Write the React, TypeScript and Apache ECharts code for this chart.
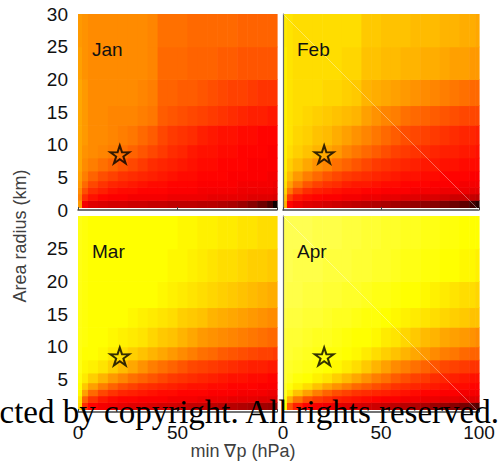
import React, { useEffect, useRef } from 'react';
import * as echarts from 'echarts';

// cell edges: min ∇p (hPa) and area radius (km)
const X_EDGES = [0, 2, 5, 10, 15, 20, 25, 30, 35, 40, 45, 50, 55, 60, 65, 70, 75, 80, 85, 90, 95, 98, 100];
const Y_EDGES = [0.4, 1.5, 2.5, 3.5, 4.5, 6, 8, 10, 13, 16, 20, 25, 30];

const JAN = [
  [60, 36, 33, 32, 31, 31, 30, 30, 29, 29, 28, 28, 28, 27, 27, 26, 25, 23, 20, 16, 11, 2],
  [56, 44, 40, 38, 37, 37, 36, 36, 36, 36, 35, 35, 35, 35, 34, 34, 34, 34, 33, 33, 33, 32],
  [58, 49, 44, 42, 40, 39, 39, 38, 38, 38, 37, 37, 37, 36, 36, 36, 36, 35, 35, 35, 35, 34],
  [60, 53, 48, 45, 43, 42, 41, 40, 39, 39, 38, 38, 38, 37, 37, 37, 37, 36, 36, 36, 36, 35],
  [61, 56, 52, 49, 47, 45, 44, 43, 42, 41, 40, 39, 39, 38, 38, 38, 37, 37, 37, 37, 36, 36],
  [62, 58, 56, 54, 52, 50, 48, 46, 44, 43, 42, 41, 40, 39, 39, 38, 38, 38, 37, 37, 37, 37],
  [62, 59, 58, 57, 56, 54, 52, 50, 48, 46, 44, 43, 41, 40, 40, 39, 39, 38, 38, 38, 37, 37],
  [62, 60, 58, 58, 57, 56, 55, 53, 51, 48, 46, 45, 44, 42, 41, 40, 40, 39, 39, 38, 38, 38],
  [62, 60, 58, 58, 57, 57, 57, 56, 55, 51, 50, 49, 48, 47, 46, 45, 44, 43, 42, 42, 41, 41],
  [62, 60, 58, 58, 58, 58, 58, 57, 56, 52, 52, 51, 51, 50, 49, 48, 47, 47, 46, 45, 45, 45],
  [61, 59, 58, 58, 58, 58, 58, 58, 57, 53, 53, 53, 52, 52, 52, 51, 51, 50, 50, 50, 50, 50],
  [60, 59, 58, 58, 58, 58, 58, 58, 57, 54, 54, 54, 53, 53, 53, 53, 53, 52, 52, 52, 52, 52],
];
const FEB = [
  [64, 38, 35, 33, 32, 31, 30, 29, 28, 27, 26, 25, 24, 23, 22, 21, 20, 18, 16, 14, 10, 6],
  [66, 46, 41, 39, 38, 37, 37, 36, 36, 35, 35, 34, 34, 33, 33, 32, 32, 31, 30, 30, 29, 28],
  [69, 55, 48, 44, 42, 41, 40, 39, 39, 38, 38, 37, 37, 37, 36, 36, 36, 35, 35, 35, 34, 34],
  [71, 61, 55, 50, 47, 45, 44, 42, 41, 41, 40, 39, 39, 38, 38, 38, 37, 37, 37, 36, 36, 36],
  [72, 65, 60, 56, 53, 50, 48, 46, 45, 44, 43, 42, 41, 40, 40, 39, 39, 38, 38, 38, 37, 37],
  [73, 68, 65, 62, 59, 57, 54, 52, 50, 48, 46, 45, 44, 43, 42, 41, 41, 40, 40, 39, 39, 39],
  [73, 70, 68, 66, 64, 62, 60, 57, 55, 53, 51, 49, 47, 46, 45, 44, 43, 42, 42, 41, 41, 40],
  [73, 71, 69, 68, 66, 65, 63, 61, 59, 57, 55, 53, 51, 49, 48, 47, 46, 45, 44, 43, 43, 42],
  [73, 71, 70, 69, 68, 67, 66, 65, 64, 61, 59, 57, 56, 54, 53, 52, 51, 50, 49, 48, 48, 48],
  [73, 71, 70, 70, 70, 69, 69, 68, 67, 64, 63, 62, 61, 60, 59, 58, 57, 56, 55, 54, 53, 53],
  [73, 71, 70, 70, 70, 70, 70, 69, 69, 66, 66, 65, 65, 64, 64, 63, 63, 62, 61, 61, 60, 60],
  [72, 71, 70, 70, 70, 70, 70, 70, 70, 67, 67, 66, 66, 66, 65, 65, 65, 64, 64, 63, 63, 62],
];
const MAR = [
  [70, 44, 38, 36, 35, 34, 33, 33, 32, 31, 31, 30, 29, 29, 28, 27, 27, 26, 25, 24, 23, 22],
  [71, 52, 45, 41, 39, 38, 38, 37, 37, 37, 36, 36, 36, 35, 35, 35, 34, 34, 34, 33, 33, 33],
  [74, 61, 53, 48, 45, 43, 42, 41, 40, 39, 39, 38, 38, 38, 37, 37, 37, 36, 36, 36, 35, 35],
  [75, 67, 61, 56, 52, 49, 47, 45, 44, 43, 42, 41, 40, 40, 39, 39, 38, 38, 38, 37, 37, 37],
  [76, 72, 68, 64, 60, 57, 54, 52, 50, 48, 46, 45, 44, 43, 42, 41, 40, 40, 39, 39, 38, 38],
  [77, 74, 73, 71, 68, 65, 62, 59, 56, 54, 52, 50, 48, 47, 46, 45, 44, 43, 42, 42, 41, 41],
  [77, 75, 75, 74, 72, 70, 68, 66, 64, 62, 60, 58, 56, 54, 53, 51, 50, 49, 48, 47, 47, 46],
  [77, 76, 75, 75, 74, 73, 72, 71, 69, 67, 66, 64, 62, 60, 59, 58, 57, 56, 55, 54, 53, 53],
  [77, 76, 75, 75, 75, 75, 74, 73, 72, 71, 70, 68, 67, 66, 64, 63, 62, 61, 60, 59, 58, 58],
  [77, 76, 75, 75, 75, 75, 75, 75, 75, 74, 73, 72, 71, 70, 69, 68, 67, 66, 65, 64, 63, 63],
  [77, 76, 75, 75, 75, 75, 75, 75, 75, 75, 74, 74, 73, 72, 71, 70, 70, 69, 68, 68, 67, 67],
  [77, 76, 75, 75, 75, 75, 75, 75, 75, 75, 75, 74, 74, 73, 73, 72, 72, 71, 71, 70, 70, 70],
];
const APR = [
  [75, 50, 42, 38, 36, 35, 34, 33, 32, 31, 30, 29, 28, 27, 26, 25, 23, 22, 20, 18, 15, 12],
  [76, 63, 55, 49, 46, 44, 42, 41, 40, 39, 38, 37, 37, 36, 36, 35, 35, 34, 34, 33, 33, 33],
  [78, 72, 66, 61, 56, 52, 49, 47, 45, 44, 43, 42, 41, 40, 39, 38, 38, 37, 37, 36, 36, 36],
  [79, 76, 73, 70, 66, 62, 59, 56, 53, 51, 49, 47, 45, 44, 43, 42, 41, 40, 39, 39, 38, 38],
  [80, 78, 76, 75, 73, 71, 68, 65, 62, 59, 56, 54, 51, 49, 47, 46, 44, 43, 42, 41, 40, 40],
  [80, 79, 78, 77, 76, 75, 74, 72, 70, 67, 64, 61, 58, 56, 54, 52, 50, 48, 47, 46, 45, 45],
  [81, 80, 79, 78, 77, 76, 76, 75, 74, 72, 70, 68, 66, 64, 62, 60, 58, 56, 55, 53, 52, 52],
  [81, 80, 80, 79, 78, 78, 77, 76, 75, 75, 74, 72, 71, 69, 67, 65, 64, 62, 61, 60, 59, 58],
  [82, 81, 81, 80, 80, 79, 78, 78, 77, 76, 76, 75, 74, 73, 72, 71, 70, 69, 68, 67, 66, 66],
  [83, 82, 82, 81, 81, 80, 80, 79, 79, 78, 77, 77, 76, 75, 75, 74, 73, 72, 71, 70, 70, 69],
  [83, 83, 82, 82, 82, 81, 81, 81, 80, 80, 79, 79, 78, 77, 77, 76, 76, 75, 75, 74, 74, 73],
  [83, 83, 83, 83, 82, 82, 82, 81, 81, 80, 80, 79, 79, 78, 78, 77, 77, 76, 76, 75, 75, 75],
];

const MONTHS = ['Jan', 'Feb', 'Mar', 'Apr'];
const MATRICES = [JAN, FEB, MAR, APR];
const STAR = [21, 8.5];
const X_MIN = 0;
const X_MAX = 100;
const X_STEP = 50;
const Y_MIN = 0;
const Y_MAX = 30;
const Y_STEP = 5;

const HOT = ['#000000', '#550000', '#aa0000', '#ff0000', '#ff5500', '#ffaa00', '#ffff00', '#ffff80', '#ffffff'];
const FONT = "'Liberation Sans', Arial, sans-serif";
const AXIS_COLOR = '#444444';
const STAR_PATH =
  'path://M50 0 L61.17 34.63 L97.55 34.55 L68.07 55.87 L79.39 90.45 L50 69 L20.61 90.45 L31.93 55.87 L2.45 34.55 L38.83 34.63 Z';

const GRIDS = [
  { left: 78, top: 14, width: 199, height: 196 },
  { left: 283, top: 14, width: 196, height: 196 },
  { left: 78, top: 216, width: 199, height: 196 },
  { left: 283, top: 216, width: 196, height: 196 },
];

function toCells(m: number[][]) {
  const out: number[][] = [];
  m.forEach((row, j) =>
    row.forEach((v, i) => out.push([X_EDGES[i], X_EDGES[i + 1], Y_EDGES[j], Y_EDGES[j + 1], v]))
  );
  return out;
}

export default function App() {
  const ref = useRef<HTMLDivElement>(null);
  useEffect(() => {
    if (!ref.current) return;
    const chart = echarts.init(ref.current, undefined, { renderer: 'svg' });

    const xAxis = GRIDS.map((_, i) => ({
      type: 'value',
      gridIndex: i,
      min: X_MIN,
      max: X_MAX,
      interval: X_STEP,
      z: 5,
      splitLine: { show: false },
      axisLine: { show: true, lineStyle: { color: AXIS_COLOR, width: 1.5 } },
      axisTick: { show: true, inside: true, length: 3, lineStyle: { color: AXIS_COLOR } },
      axisLabel: {
        show: i >= 2,
        margin: 11,
        color: '#111',
        fontSize: 19,
        fontFamily: FONT,
        showMinLabel: true,
        showMaxLabel: true,
        formatter: (v: number) => (i === 2 && v === X_MAX ? '' : String(v)),
      },
    }));

    const yAxis = GRIDS.map((_, i) => ({
      type: 'value',
      gridIndex: i,
      min: Y_MIN,
      max: Y_MAX,
      interval: Y_STEP,
      z: 5,
      splitLine: { show: false },
      axisLine: { show: i % 2 === 1, lineStyle: { color: '#666666', width: 1.2 } },
      axisTick: { show: false },
      axisLabel: {
        show: i % 2 === 0,
        margin: 10,
        color: '#111',
        fontSize: 19,
        fontFamily: FONT,
        formatter: (v: number) => (i === 2 && (v === Y_MIN || v === Y_MAX) ? '' : String(v)),
      },
    }));

    const heatSeries = MATRICES.map((m, i) => ({
      type: 'custom',
      xAxisIndex: i,
      yAxisIndex: i,
      z: 1,
      encode: { x: [0, 1], y: [2, 3] },
      data: toCells(m),
      renderItem: (params: any, api: any) => {
        const p0 = api.coord([api.value(0), api.value(3)]);
        const p1 = api.coord([api.value(1), api.value(2)]);
        return {
          type: 'rect',
          shape: { x: p0[0], y: p0[1], width: p1[0] - p0[0] + 0.6, height: p1[1] - p0[1] + 0.6 },
          style: { fill: api.visual('color') },
        };
      },
    }));

    const starSeries = MONTHS.map((_, i) => ({
      type: 'scatter',
      xAxisIndex: i,
      yAxisIndex: i,
      z: 10,
      symbol: STAR_PATH,
      symbolSize: [19, 18],
      data: [STAR],
      itemStyle: { color: 'rgba(0,0,0,0)', borderColor: '#000', borderWidth: 2 },
      silent: true,
    }));

    const monthText = MONTHS.map((name, i) => ({
      type: 'text',
      x: GRIDS[i].left + 14,
      y: GRIDS[i].top + 35,
      z: 20,
      style: { text: name, fill: '#111', font: `19px ${FONT}`, verticalAlign: 'middle', align: 'left' },
    }));

    chart.setOption({
      animation: false,
      grid: GRIDS.map((g) => ({ ...g, containLabel: false })),
      xAxis,
      yAxis,
      visualMap: {
        type: 'continuous',
        show: false,
        min: 0,
        max: 100,
        dimension: 4,
        seriesIndex: [0, 1, 2, 3],
        inRange: { color: HOT },
      },
      series: [...heatSeries, ...starSeries],
      graphic: [
        ...monthText,
        {
          type: 'line',
          z: 15,
          shape: { x1: 283, y1: 14, x2: 479, y2: 210 },
          style: { stroke: 'rgba(255,255,255,0.35)', lineWidth: 1 },
        },
        {
          type: 'line',
          z: 15,
          shape: { x1: 283, y1: 216, x2: 479, y2: 412 },
          style: { stroke: 'rgba(255,255,255,0.35)', lineWidth: 1 },
        },
        {
          type: 'text',
          x: 20,
          y: 236,
          rotation: Math.PI / 2,
          z: 20,
          style: {
            text: 'Area radius (km)',
            fill: '#404040',
            font: `18px ${FONT}`,
            align: 'center',
            verticalAlign: 'middle',
          },
        },
        {
          type: 'text',
          x: 243,
          y: 451,
          z: 20,
          style: {
            text: 'min \u2207p (hPa)',
            fill: '#404040',
            font: `18px ${FONT}`,
            align: 'center',
            verticalAlign: 'middle',
          },
        },
        {
          type: 'text',
          x: 499,
          y: 412,
          z: 30,
          style: {
            text: 'Protected by copyright. All rights reserved.',
            fill: '#000',
            font: "33px 'Liberation Serif', serif",
            align: 'right',
            verticalAlign: 'middle',
          },
        },
      ],
    });
    return () => chart.dispose();
  }, []);
  return <div ref={ref} style={{ position: 'absolute', left: 0, top: 0, width: 501, height: 462 }} />;
}
